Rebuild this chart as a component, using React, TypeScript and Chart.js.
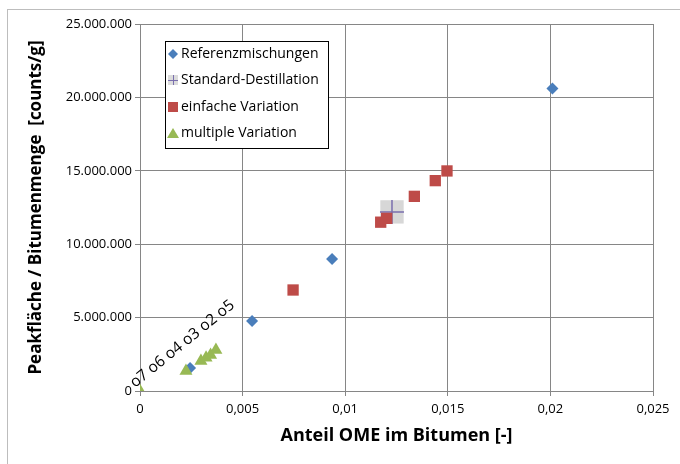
import React, { useEffect, useRef } from "react";
import { Chart, registerables } from "chart.js";

Chart.register(...registerables);

const refX = [0.00244, 0.00546, 0.00936, 0.0201];
const refY = [1570000, 4770000, 9000000, 20600000];

const stdX = [0.01228];
const stdY = [12200000];

const einfX = [0.00746, 0.01173, 0.01202, 0.01337, 0.01439, 0.01496];
const einfY = [6880000, 11500000, 11760000, 13260000, 14330000, 14990000];

const multX = [0, 0.00224, 0.00297, 0.00322, 0.00344, 0.0037];
const multY = [0, 1360000, 2040000, 2270000, 2450000, 2790000];

const pointLabels = ["o7", "o6", "o4", "o3", "o2", "o5"];

const xTicks = [0, 0.005, 0.01, 0.015, 0.02, 0.025];
const yTicks = [0, 5000000, 10000000, 15000000, 20000000, 25000000];

const seriesNames = [
  "Referenzmischungen",
  "Standard-Destillation",
  "einfache Variation",
  "multiple Variation",
];

const FONT = "'Open Sans', Lato, sans-serif";
const BLUE = "#4a7ebb";
const RED = "#be4b48";
const GREEN = "#98b954";
const PURPLE = "#7a6fae";

const zip = (xs: number[], ys: number[]) => xs.map((x, i) => ({ x, y: ys[i] }));

const fmtDE = (v: number) =>
  Math.round(v)
    .toString()
    .replace(/\B(?=(\d{3})+(?!\d))/g, ".");

const labelPlugin = {
  id: "pointLabelText",
  afterDatasetsDraw(chart: any) {
    const ctx = chart.ctx;
    const xs = chart.scales.x;
    const ys = chart.scales.y;
    const px = xs.getPixelForValue(multX[0]);
    const py = ys.getPixelForValue(multY[0]);
    ctx.save();
    ctx.translate(px - 5, py - 3);
    ctx.rotate(-39 * Math.PI / 180);
    ctx.font = `15.5px ${FONT}`;
    ctx.fillStyle = "#000";
    ctx.textAlign = "left";
    ctx.textBaseline = "alphabetic";
    ctx.fillText(pointLabels.join(" "), 0, 0);
    ctx.restore();
  },
};

const legendPlugin = {
  id: "boxLegend",
  afterDraw(chart: any) {
    const ctx = chart.ctx;
    const left = 165, top = 41, w = 163, h = 107;
    ctx.save();
    ctx.fillStyle = "#fff";
    ctx.fillRect(left, top, w, h);
    ctx.strokeStyle = "#000";
    ctx.lineWidth = 1;
    ctx.strokeRect(left + 0.5, top + 0.5, w, h);
    const rows = [54, 80, 107, 133];
    ctx.font = `14px ${FONT}`;
    ctx.textBaseline = "middle";
    ctx.textAlign = "left";
    seriesNames.forEach((name, i) => {
      const cy = rows[i];
      const cx = 173;
      ctx.beginPath();
      if (i === 0) {
        ctx.fillStyle = BLUE;
        ctx.moveTo(cx, cy - 5);
        ctx.lineTo(cx + 5, cy);
        ctx.lineTo(cx, cy + 5);
        ctx.lineTo(cx - 5, cy);
        ctx.closePath();
        ctx.fill();
      } else if (i === 1) {
        ctx.fillStyle = "#dcdcdc";
        ctx.fillRect(cx - 5, cy - 5, 10, 10);
        ctx.strokeStyle = PURPLE;
        ctx.lineWidth = 1;
        ctx.beginPath();
        ctx.moveTo(cx - 5, cy + 0.5);
        ctx.lineTo(cx + 5, cy + 0.5);
        ctx.moveTo(cx + 0.5, cy - 5);
        ctx.lineTo(cx + 0.5, cy + 5);
        ctx.stroke();
      } else if (i === 2) {
        ctx.fillStyle = RED;
        ctx.fillRect(cx - 5, cy - 5, 10, 10);
      } else {
        ctx.fillStyle = GREEN;
        ctx.moveTo(cx, cy - 5);
        ctx.lineTo(cx + 6, cy + 5);
        ctx.lineTo(cx - 6, cy + 5);
        ctx.closePath();
        ctx.fill();
      }
      ctx.fillStyle = "#000";
      ctx.fillText(name, 181, cy);
    });
    ctx.restore();
  },
};

export default function App() {
  const canvasRef = useRef<HTMLCanvasElement | null>(null);

  useEffect(() => {
    document.body.style.margin = "0";
    const canvas = canvasRef.current;
    if (!canvas) return;
    const chart = new Chart(canvas, {
      type: "scatter",
      data: {
        datasets: [
          {
            label: seriesNames[0],
            data: zip(refX, refY),
            pointStyle: "rectRot",
            pointRadius: 6,
            backgroundColor: BLUE,
            borderColor: BLUE,
            borderWidth: 0,
            order: 4,
          },
          {
            label: "box",
            data: zip(stdX, stdY),
            pointStyle: "rect",
            pointRadius: 16.5,
            backgroundColor: "rgba(205,205,205,0.8)",
            borderColor: "rgba(205,205,205,0.8)",
            borderWidth: 0,
            order: 6,
          },
          {
            label: seriesNames[1],
            data: zip(stdX, stdY),
            pointStyle: "cross",
            pointRadius: 12,
            borderColor: PURPLE,
            backgroundColor: PURPLE,
            borderWidth: 1.5,
            order: 5,
          },
          {
            label: seriesNames[2],
            data: zip(einfX, einfY),
            pointStyle: "rect",
            pointRadius: 8,
            backgroundColor: RED,
            borderColor: RED,
            borderWidth: 0,
            order: 1,
          },
          {
            label: seriesNames[3],
            data: zip(multX, multY),
            pointStyle: "triangle",
            pointRadius: 7.5,
            backgroundColor: GREEN,
            borderColor: GREEN,
            borderWidth: 0,
            order: 0,
          },
        ],
      },
      options: {
        animation: false,
        responsive: false,
        layout: { padding: { left: 0, right: 27, top: 24, bottom: 17 } },
        plugins: {
          legend: { display: false },
          tooltip: { enabled: false },
        },
        scales: {
          x: {
            type: "linear",
            min: 0,
            max: 0.025,
            afterBuildTicks: (s: any) => {
              s.ticks = xTicks.map((v) => ({ value: v }));
            },
            afterFit: (s: any) => {
              s.height = 56;
            },
            grid: {
              color: "#868686",
              tickColor: "#868686",
              tickLength: 5,
              drawTicks: true,
            },
            border: { color: "#868686" },
            ticks: {
              color: "#000",
              font: { family: FONT, size: 13 },
              padding: 5,
              maxRotation: 0,
              callback: (v: any) => String(v).replace(".", ","),
            },
            title: {
              display: true,
              text: "Anteil OME im Bitumen [-]",
              color: "#000",
              font: { family: FONT, size: 18, weight: "bold" },
              padding: { top: 8, bottom: 0 },
            },
          },
          y: {
            type: "linear",
            min: 0,
            max: 25000000,
            afterBuildTicks: (s: any) => {
              s.ticks = yTicks.map((v) => ({ value: v }));
            },
            afterFit: (s: any) => {
              s.width = 140;
            },
            grid: {
              color: "#868686",
              tickColor: "#868686",
              tickLength: 5,
            },
            border: { color: "#868686" },
            ticks: {
              color: "#000",
              font: { family: FONT, size: 13 },
              padding: 3,
              callback: (v: any) => fmtDE(Number(v)),
            },
            title: {
              display: true,
              text: "Peakfläche / Bitumenmenge  [counts/g]",
              color: "#000",
              font: { family: FONT, size: 17, weight: "bold" },
              padding: { top: 26, bottom: 0 },
            },
          },
        },
      },
      plugins: [labelPlugin, legendPlugin],
    } as any);
    return () => chart.destroy();
  }, []);

  return (
    <div style={{ position: "relative", width: 680, height: 464, background: "#fff" }}>
      <div
        style={{
          position: "absolute",
          left: 7,
          top: 9,
          right: 0,
          bottom: 0,
          borderLeft: "1px solid #bdbdbd",
          borderTop: "1px solid #bdbdbd",
        }}
      />
      <canvas
        ref={canvasRef}
        width={680}
        height={464}
        style={{ position: "absolute", left: 0, top: 0 }}
      />
    </div>
  );
}
